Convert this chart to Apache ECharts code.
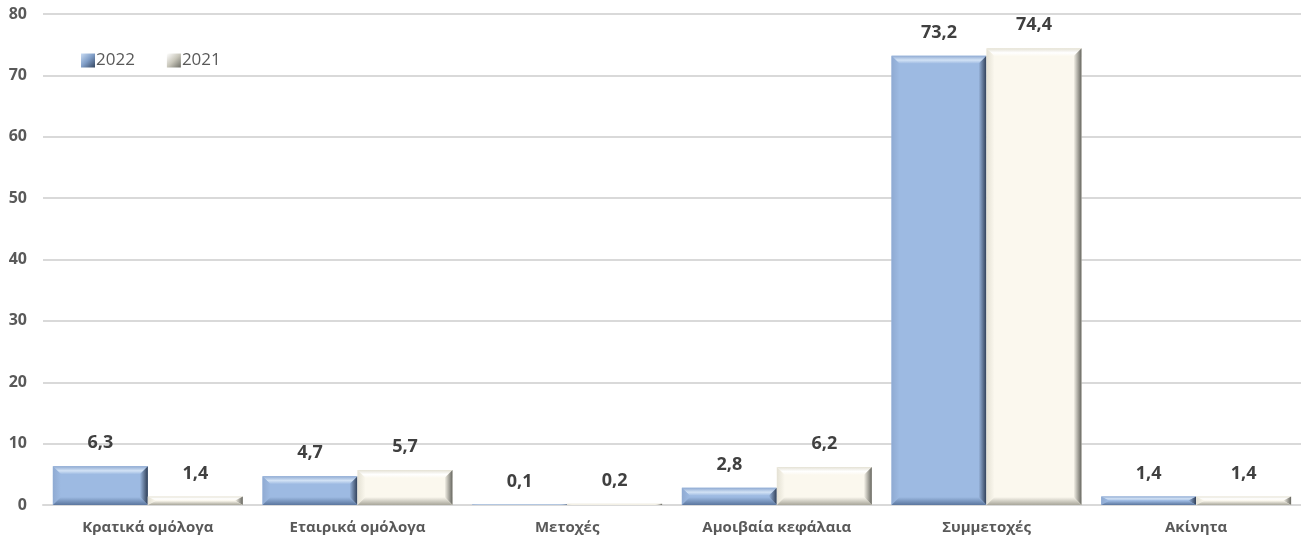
<!DOCTYPE html>
<html><head><meta charset="utf-8">
<script src="https://cdn.jsdelivr.net/npm/echarts@6/dist/echarts.min.js"></script>
<style>html,body{margin:0;padding:0;background:#fff}#c{width:1301px;height:543px}</style>
</head><body><div id="c"></div>
<script>
const categories = ['Κρατικά ομόλογα','Εταιρικά ομόλογα','Μετοχές','Αμοιβαία κεφάλαια','Συμμετοχές','Ακίνητα'];
const values2022 = [6.3, 4.7, 0.1, 2.8, 73.2, 1.4];
const values2021 = [1.4, 5.7, 0.2, 6.2, 74.4, 1.4];
const seriesNames = ['2022','2021'];
const yTicks = [0,10,20,30,40,50,60,70,80];

const FONT = '"Open Sans", Lato, sans-serif';
const palettes = [
  {center:'#9DBAE2', top:'#D2E2F5', left:'#8FAAD2', right:'#2E3D55', bottom:'#5B769E'},
  {center:'#FBF8EE', top:'#FFFFFF', left:'#E4E1D4', right:'#66665F', bottom:'#A8A69A'}
];

function makeRender(si){
  return function(params, api){
    const cat = api.value(0), v = api.value(1);
    const base = api.coord([cat, 0]);
    const topP = api.coord([cat, v]);
    const band = api.size([1,0])[0];
    const bw = band * 0.453;
    const x0 = si === 0 ? base[0] - bw : base[0];
    const x1 = x0 + bw;
    const y0 = topP[1], y1 = base[1];
    const h = y1 - y0;
    const p = palettes[si];
    const b = Math.min(8, h/2);
    const bx = Math.min(8, bw/2);
    const G = echarts.graphic.LinearGradient;
    const children = [];
    if (h > 0.3) {
      children.push({type:'rect', shape:{x:x0,y:y0,width:bw,height:h}, style:{fill:p.center}});
      children.push({type:'polygon', shape:{points:[[x0,y0],[x1,y0],[x1-bx,y0+b],[x0+bx,y0+b]]}, style:{fill:new G(0,0,0,1,[{offset:0,color:p.left},{offset:0.55,color:p.top},{offset:1,color:p.center}])}});
      children.push({type:'polygon', shape:{points:[[x0,y0],[x0+bx,y0+b],[x0+bx,y1-b],[x0,y1]]}, style:{fill:new G(0,0,1,0,[{offset:0,color:p.left},{offset:1,color:p.center}])}});
      children.push({type:'polygon', shape:{points:[[x1,y0],[x1-bx,y0+b],[x1-bx,y1-b],[x1,y1]]}, style:{fill:new G(0,0,1,0,[{offset:0,color:p.center},{offset:1,color:p.right}])}});
      children.push({type:'polygon', shape:{points:[[x0,y1],[x0+bx,y1-b],[x1-bx,y1-b],[x1,y1]]}, style:{fill:new G(0,0,0,1,[{offset:0,color:p.center},{offset:1,color:p.bottom}])}});
    } else {
      children.push({type:'rect', shape:{x:x0,y:y1-1,width:bw,height:1}, style:{fill:p.left}});
    }
    children.push({type:'text', style:{text:String(v).replace('.',','), x:(x0+x1)/2, y:y0-23, align:'center', verticalAlign:'middle', fill:'#404040', font:'bold 18px ' + FONT}});
    return {type:'group', children};
  };
}

const chart = echarts.init(document.getElementById('c'), null, {renderer:'canvas'});
chart.setOption({
  animation:false,
  backgroundColor:'#fff',
  grid:{left:43, right:0, top:14, bottom:38},
  legend:{
    left:81, top:52, padding:0, itemWidth:14, itemHeight:14, itemGap:32,
    icon:'rect',
    textStyle:{fontSize:17, color:'#595959', fontFamily:FONT, padding:[0,0,0,-4]},
    data:seriesNames
  },
  xAxis:{
    type:'category', data:categories,
    axisLine:{show:true, lineStyle:{color:'#D9D9D9', width:2}},
    axisTick:{show:false},
    axisLabel:{fontSize:15, fontWeight:'bold', color:'#595959', margin:15, fontFamily:FONT}
  },
  yAxis:{
    type:'value', min:yTicks[0], max:yTicks[yTicks.length-1], interval:10,
    axisLine:{show:false}, axisTick:{show:false},
    splitLine:{lineStyle:{color:'#D9D9D9', width:2}},
    axisLabel:{fontSize:16, fontWeight:'bold', color:'#595959', margin:16, fontFamily:FONT}
  },
  series:[
    {name:seriesNames[0], type:'custom', renderItem:makeRender(0),
     itemStyle:{color:new echarts.graphic.LinearGradient(0,0,1,1,[{offset:0,color:'#C9DCF3'},{offset:0.5,color:'#7E9CC6'},{offset:1,color:'#34455F'}])},
     encode:{x:0,y:1}, data:values2022.map((v,i)=>[i,v])},
    {name:seriesNames[1], type:'custom', renderItem:makeRender(1),
     itemStyle:{color:new echarts.graphic.LinearGradient(0,0,1,1,[{offset:0,color:'#FFFFFF'},{offset:0.5,color:'#C8C6BA'},{offset:1,color:'#6E6E66'}])},
     encode:{x:0,y:1}, data:values2021.map((v,i)=>[i,v])}
  ]
});
</script></body></html>
